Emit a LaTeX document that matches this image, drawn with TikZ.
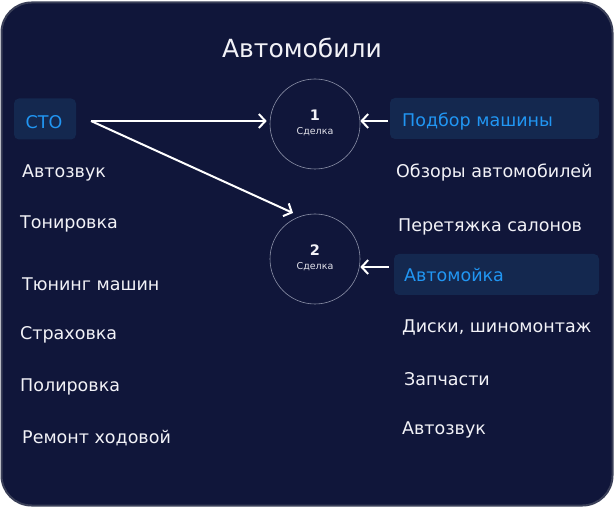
\documentclass[tikz,border=0pt]{standalone}
\usepackage{fontspec}
\setmainfont{DejaVu Sans}
\usetikzlibrary{arrows.meta}
\definecolor{card}{HTML}{10163A}
\definecolor{cardedge}{HTML}{3A3F58}
\definecolor{hlbox}{HTML}{14284F}
\definecolor{hltext}{HTML}{2196F3}
\definecolor{fgw}{HTML}{F2F2F7}
\definecolor{ring}{HTML}{8C91A8}
\begin{document}
\begin{tikzpicture}[x=1pt,y=-1pt,
  item/.style={anchor=west, text=fgw, inner sep=0pt, font=\fontsize{17.5}{20}\selectfont},
  hlitem/.style={anchor=west, text=hltext, inner sep=0pt, font=\fontsize{17.5}{20}\selectfont},
  hl/.style={fill=hlbox, rounded corners=5pt, draw=none, inner sep=0pt},
  deal/.style={circle, draw=ring, line width=0.6pt, minimum size=90pt, inner sep=0pt},
  dealnum/.style={text=fgw, font=\bfseries\fontsize{14.5}{16}\selectfont, inner sep=0pt},
  dealtxt/.style={text=fgw!85!ring, font=\fontsize{9.5}{11}\selectfont, inner sep=0pt},
  arr/.style={draw=white, line width=2pt, -{Straight Barb[length=6.5pt,width=14pt,line width=2pt]}}
]
\useasboundingbox (0,0) rectangle (614,508);
\fill[white] (0,0) rectangle (614,508);
\draw[fill=card, draw=cardedge, line width=2pt, rounded corners=30pt] (1.5,2.5) rectangle (612.5,505.5);

\node[text=fgw, font=\fontsize{25}{30}\selectfont, inner sep=0pt] (title) at (302,48) {Автомобили};

% left column
\node[hl, minimum width=62pt, minimum height=41pt] (stobox) at (45,119) {};
\node[hlitem, anchor=center] (sto) at (44,122) {СТО};
\coordinate (stoout) at (91,121);
\node[item] (l1) at (22,173) {Автозвук};
\node[item] (l2) at (20,224) {Тонировка};
\node[item] (l3) at (22,284) {Тюнинг машин};
\node[item] (l4) at (20,335) {Страховка};
\node[item] (l5) at (20,387) {Полировка};
\node[item] (l6) at (22,438) {Ремонт ходовой};

% deals
\node[deal] (c1) at (315,124) {};
\node[dealnum] (n1) at (315,115) {1};
\node[dealtxt] (s1) at (315,132) {Сделка};
\node[deal] (c2) at (315,259) {};
\node[dealnum] (n2) at (315,250) {2};
\node[dealtxt] (s2) at (315,267) {Сделка};
\coordinate (c2tip) at (293,213);

% right column
\node[hl, minimum width=209pt, minimum height=41pt] (pbbox) at (494.5,118.5) {};
\node[hlitem] (pb) at (402,122) {Подбор машины};
\coordinate (pbout) at (388,121);
\node[item] (r1) at (396,173) {Обзоры автомобилей};
\node[item] (r2) at (398,227) {Перетяжка салонов};
\node[hl, minimum width=205pt, minimum height=41pt] (amobox) at (496.5,274.5) {};
\node[hlitem] (amo) at (404,275) {Автомойка};
\coordinate (amoout) at (389,267);
\node[item] (r3) at (402,327) {Диски, шиномонтаж};
\node[item] (r4) at (404,379) {Запчасти};
\node[item] (r5) at (402,430) {Автозвук};

% arrows
\draw[arr] (stoout) -- ([xshift=-3pt]c1.west |- stoout);
\draw[arr] (stoout) -- (c2tip);
\draw[arr] (pbout) -- (c1.east |- pbout);
\draw[arr] (amoout) -- (c2.east |- amoout);
\end{tikzpicture}
\end{document}
